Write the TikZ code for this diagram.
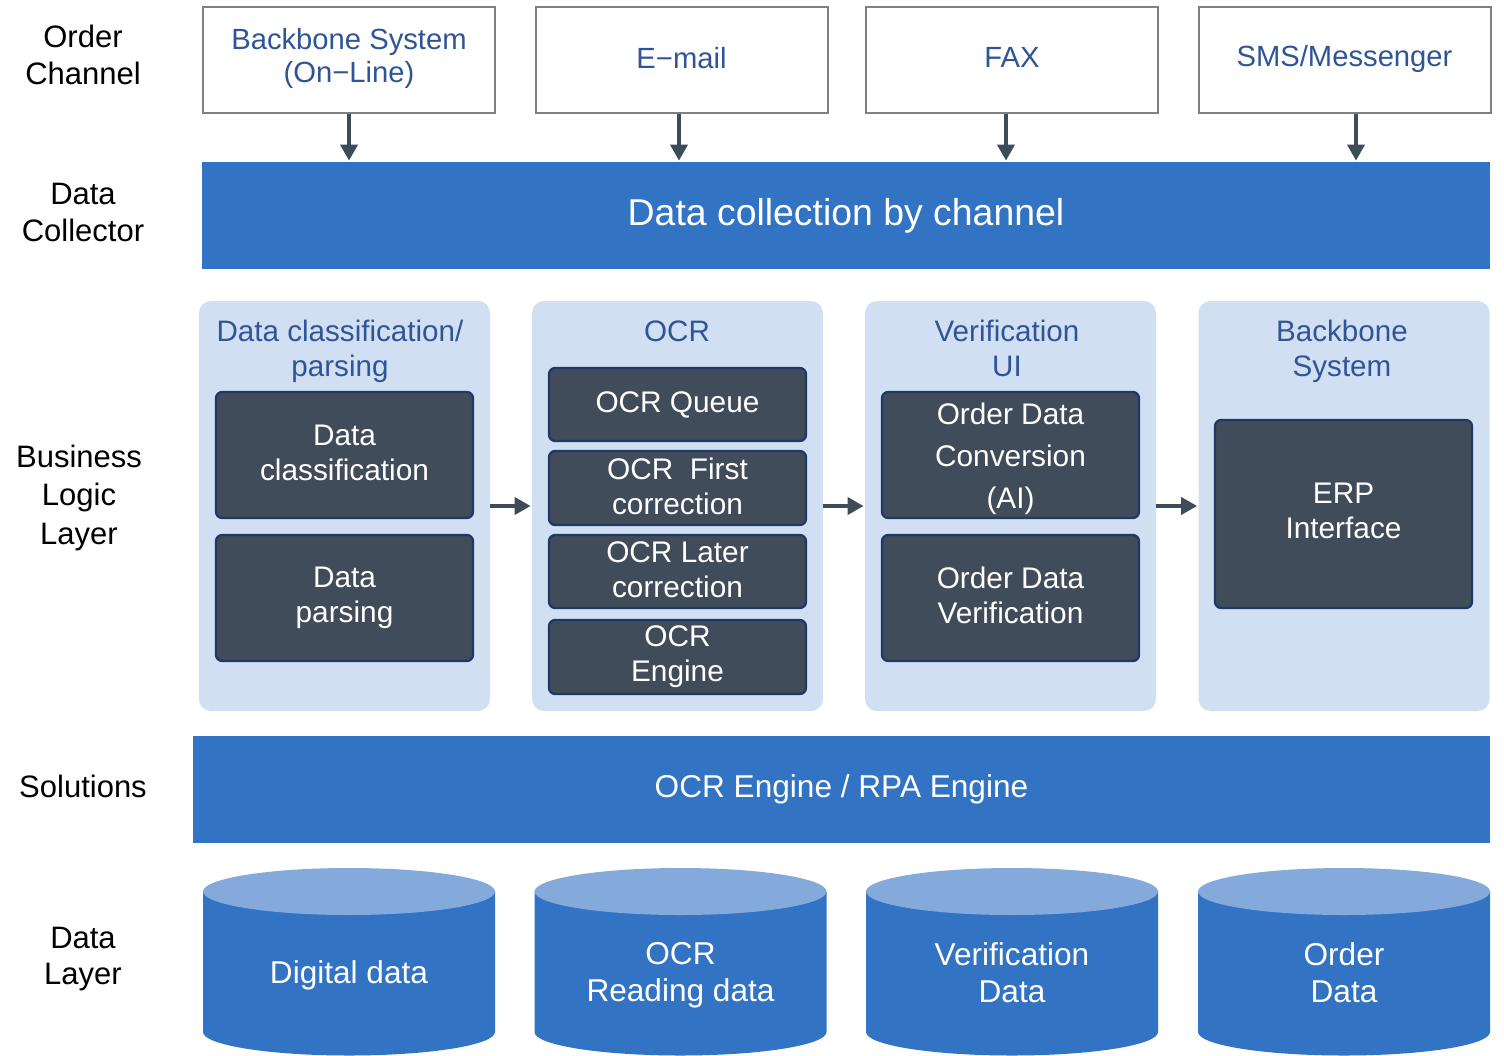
\documentclass[tikz,border=0pt]{standalone}
\usepackage{fontspec}
\setmainfont{Liberation Sans}
\usetikzlibrary{positioning}
\usetikzlibrary{arrows.meta,calc}
\definecolor{barblue}{RGB}{51,115,196}
\definecolor{cyltop}{RGB}{131,170,219}
\definecolor{panelblue}{RGB}{209,223,242}
\definecolor{boxgray}{RGB}{64,76,90}
\definecolor{boxedge}{RGB}{31,56,100}
\definecolor{titleblue}{RGB}{47,85,151}
\definecolor{arrowgray}{RGB}{61,77,87}
\definecolor{chgray}{RGB}{128,128,128}
\tikzstyle{channel}=[draw=chgray,line width=1pt,fill=white,text=titleblue,minimum width=146pt,minimum height=53pt,inner sep=0pt,align=center,font=\fontsize{14.6}{16.5}\selectfont]
\tikzstyle{bar}=[fill=barblue,text=white,inner sep=0pt,align=center]
\tikzstyle{panel}=[fill=panelblue,rounded corners=6pt,minimum width=145.5pt,minimum height=205pt,inner sep=0pt]
\tikzstyle{paneltitle}=[text=titleblue,align=center,inner sep=0pt,font=\fontsize{14.8}{17.5}\selectfont]
\tikzstyle{darkbox}=[fill=boxgray,draw=boxedge,line width=1.1pt,rounded corners=3pt,text=white,minimum width=128.5pt,inner sep=0pt,align=center,font=\fontsize{14.9}{17.5}\selectfont]
\tikzstyle{boxtext}=[text=white,align=center,inner sep=0pt,font=\fontsize{14.9}{17.5}\selectfont]
\tikzstyle{layer}=[align=center,inner sep=0pt,font=\fontsize{15.5}{18.5}\selectfont]
\tikzstyle{cyltext}=[text=white,align=center,inner sep=0pt,font=\fontsize{15.8}{18.5}\selectfont]
\tikzstyle{flow}=[-{Triangle[length=8pt,width=8.5pt]},line width=1.9pt,draw=arrowgray]

\begin{document}
\begin{tikzpicture}[x=0.5pt,y=-0.5pt]
\useasboundingbox (0,0) rectangle (1504,1055);

%layer names
    \node[layer] (lorder) at (83,54.5) {Order\\Channel};
    \node[layer] (lcollect) at (83,212.5) {Data\\Collector};
    \node[layer,font=\fontsize{15.5}{19.25}\selectfont] (lbusiness) at (79,497.5) {Business\\Logic\\Layer};
    \node[layer] (lsolution) at (83,786) {Solutions};
    \node[layer,font=\fontsize{15.5}{18}\selectfont] (ldata) at (83,959.5) {Data\\Layer};

%order channels
    \foreach \x/\name/\txt in {349/ch1/{Backbone System\\(On−Line)}, 681.5/ch2/{E−mail}, 1012/ch3/{FAX}, 1344.5/ch4/{SMS/Messenger}}
        \node[channel] (\name) at (\x,60) {};
    \node[text=titleblue,font=\fontsize{14.6}{16.5}\selectfont,align=center] at (349,58.5) {Backbone System\\(On−Line)};
    \node[text=titleblue,font=\fontsize{14.6}{16.5}\selectfont] at (681.5,58.5) {E−mail};
    \node[text=titleblue,font=\fontsize{14.6}{16.5}\selectfont] at (1012,57.5) {FAX};
    \node[text=titleblue,font=\fontsize{14.6}{16.5}\selectfont] at (1344.5,59) {SMS/Messenger};

    \node[bar,minimum width=644pt,minimum height=53.5pt,font=\fontsize{18.7}{22}\selectfont] (collect) at (846,215.5) {Data collection by channel};

    \foreach \name/\ax in {ch1/349, ch2/679, ch3/1006, ch4/1356}
        \draw[flow] (\name.south -| \ax,0) -- ($(collect.north -| \ax,0)+(0,-1)$);

%business logic
    \foreach \x/\name in {344.5/pcls, 677.5/pocr, 1010.5/pver, 1344/pbb}
        \node[panel] (\name) at (\x,506) {};

    \node[paneltitle] (tcls) at (340,351) {Data classification/\\parsing};
    \node[paneltitle] (tocr) at (677,331) {OCR};
    \node[paneltitle] (tver) at (1007,348) {Verification\\UI};
    \node[paneltitle] (tbb) at (1342,351) {Backbone\\System};

    \node[darkbox,minimum height=63pt] (dcls) at (344.5,455) {};
    \node[boxtext] at (344.5,453) {Data\\classification};
    \node[darkbox,minimum height=63pt] (dpar) at (344.5,598) {Data\\parsing};

    \node[darkbox,minimum height=36.5pt] (oqueue) at (677.5,404.5) {OCR Queue};
    \node[darkbox,minimum height=37pt] (ofirst) at (677.5,488) {};
    \node[boxtext] at (677.5,486) {OCR\ \ First\\correction};
    \node[darkbox,minimum height=36.5pt] (olater) at (677.5,571.5) {};
    \node[boxtext] at (677.5,570) {OCR Later\\correction};
    \node[darkbox,minimum height=37pt] (oengine) at (677.5,657) {OCR\\Engine};

    \node[darkbox,minimum height=63pt] (vconv) at (1010.5,455) {};
    \node[boxtext,font=\fontsize{14.9}{21}\selectfont] at (1010.5,459) {Order Data\\Conversion\\(AI)};
    \node[darkbox,minimum height=63pt] (vcheck) at (1010.5,598) {};
    \node[boxtext] at (1010.5,595) {Order Data\\Verification};

    \node[darkbox,minimum height=94pt] (erp) at (1343.5,514) {};
    \node[boxtext] at (1343.5,511) {ERP\\Interface};

    \foreach \source/\dest in {pcls/pocr, pocr/pver, pver/pbb}
        \draw[flow] (\source.east) -- ($(\dest.west)+(-1,0)$);

%solutions
    \node[bar,minimum width=648.5pt,minimum height=53.5pt,font=\fontsize{15.8}{19}\selectfont] (solution) at (841.5,789.5) {OCR Engine / RPA Engine};

%data layer
    \foreach \x/\name/\txt/\ty in {349/cdig/{Digital data}/975, 680.5/cocr/{OCR\\Reading data}/975, 1012/cver/{Verification\\Data}/973, 1344/cord/{Order\\Data}/973}{
        \fill[barblue] (\x-146,891.5) -- (\x-146,1032) arc[start angle=180,end angle=360,x radius=73pt,y radius=11.75pt] -- (\x+146,891.5) -- cycle;
        \fill[cyltop] (\x,891.5) ellipse[x radius=73pt,y radius=11.75pt];
        \node[cyltext] (\name) at (\x,\ty) {\txt};
    }

\end{tikzpicture}
\end{document}
